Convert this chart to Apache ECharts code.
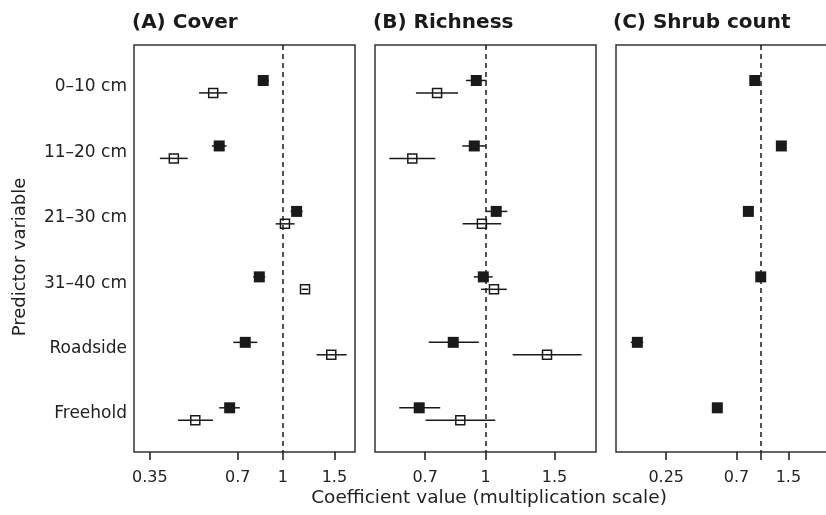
<!DOCTYPE html>
<html>
<head>
<meta charset="utf-8">
<script src="https://cdn.jsdelivr.net/npm/echarts@6/dist/echarts.min.js"></script>
<style>html,body{margin:0;padding:0;background:#fff;overflow:hidden}#c{width:846px;height:515px}</style>
</head>
<body>
<div id="c"></div>
<script>
// ---- data ----
const categories = ['0\u201310 cm', '11\u201320 cm', '21\u201330 cm', '31\u201340 cm', 'Roadside', 'Freehold'];

const coverFilled   = [0.856, 0.605, 1.114, 0.830, 0.743, 0.657];
const coverFilledLo = [0.823, 0.571, 1.062, 0.791, 0.676, 0.605];
const coverFilledHi = [0.895, 0.641, 1.168, 0.870, 0.817, 0.712];
const coverOpen     = [0.577, 0.423, 1.016, 1.190, 1.464, 0.501];
const coverOpenLo   = [0.516, 0.379, 0.944, 1.160, 1.304, 0.437];
const coverOpenHi   = [0.645, 0.472, 1.097, 1.220, 1.653, 0.576];

const richFilled    = [0.946, 0.935, 1.064, 0.986, 0.826, 0.676];
const richFilledLo  = [0.890, 0.871, 1.000, 0.932, 0.715, 0.601];
const richFilledHi  = [1.006, 1.000, 1.136, 1.042, 0.960, 0.765];
const richOpen      = [0.751, 0.649, 0.978, 1.050, 1.435, 0.861];
const richOpenLo    = [0.663, 0.567, 0.873, 0.973, 1.172, 0.702];
const richOpenHi    = [0.850, 0.743, 1.096, 1.132, 1.760, 1.058];

const shrubFilled   = [0.916, 1.353, 0.834, 1.000, 0.1637, 0.529];
const shrubFilledLo = [0.900, 1.330, 0.820, 0.985, 0.1486, 0.520];
const shrubFilledHi = [0.930, 1.375, 0.848, 1.015, 0.1787, 0.538];

const coverTicks = [0.35, 0.7, 1, 1.5];
const coverTickLabels = [0.35, 0.7, 1, 1.5];
const richTicks = [0.7, 1, 1.5];
const richTickLabels = [0.7, 1, 1.5];
const shrubTicks = [0.25, 0.7, 1, 1.5];
const shrubTickLabels = [0.25, 0.7, 1.5];

const panelTitles = ['(A) Cover', '(B) Richness', '(C) Shrub count'];

// ---- chart ----
const FONT = 'DejaVu Sans';
const INK = '#1a1a1a';
const FRAME = '#333';
const OFF = 0.095;

const chart = echarts.init(document.getElementById('c'), null, {renderer: 'canvas'});

const grids = [
  {left: 134, top: 45, width: 221, height: 407},
  {left: 375, top: 45, width: 221, height: 407},
  {left: 616, top: 45, width: 221, height: 407}
].map(g => Object.assign(g, {show: true, borderColor: FRAME, borderWidth: 1.5, backgroundColor: 'transparent',
  containLabel: false, outerBoundsMode: 'none'}));

const xRanges = [[0.309, 1.765], [0.521, 1.915], [0.1197, 3.06]];
const ticksArr = [coverTicks, richTicks, shrubTicks];
const labelsArr = [coverTickLabels, richTickLabels, shrubTickLabels];

const xAxes = xRanges.map((r, i) => ({
  type: 'log', logBase: 10, gridIndex: i, min: r[0], max: r[1], position: 'bottom',
  axisLine: {show: false},
  splitLine: {show: false},
  axisTick: {show: true, inside: false, length: 8, customValues: ticksArr[i], lineStyle: {color: INK, width: 1.5}},
  axisLabel: {show: true, customValues: labelsArr[i], margin: 18, color: '#222', fontFamily: FONT, fontSize: 16,
    formatter: v => String(+(+v).toPrecision(3))}
}));

const yAxes = [0, 1, 2].map(i => ({
  type: 'value', gridIndex: i, inverse: true, min: 0.363, max: 6.58, position: 'left',
  axisLine: {show: false},
  splitLine: {show: false}, axisTick: {show: false},
  axisLabel: i === 0 ? {show: true, customValues: [1, 2, 3, 4, 5, 6], margin: 7, color: '#222', fontFamily: FONT, fontSize: 17,
    formatter: v => categories[Math.round(v) - 1] || ''} : {show: false}
}));

function errData(lo, hi, off) {
  return lo.map((l, k) => [l, hi[k], k + 1 + off]);
}
function ptData(vals, off) {
  return vals.map((v, k) => [v, k + 1 + off]);
}
function errSeries(i, data) {
  return {
    type: 'custom', xAxisIndex: i, yAxisIndex: i, z: 2, silent: true,
    renderItem: (params, api) => {
      const a = api.coord([api.value(0), api.value(2)]);
      const b = api.coord([api.value(1), api.value(2)]);
      return {type: 'line', shape: {x1: a[0], y1: a[1], x2: b[0], y2: b[1]}, style: {stroke: INK, lineWidth: 1.5}};
    },
    encode: {x: [0, 1], y: 2},
    data: data
  };
}
function filledSeries(i, data, withLine) {
  const s = {
    type: 'scatter', xAxisIndex: i, yAxisIndex: i, z: 4, silent: true,
    symbol: 'rect', symbolSize: 11,
    itemStyle: {color: INK, opacity: 1},
    data: data
  };
  if (withLine) {
    s.markLine = {
      silent: true, symbol: 'none', animation: false,
      label: {show: false},
      lineStyle: {color: INK, type: [5, 4], width: 1.5},
      data: [{xAxis: 1}]
    };
  }
  return s;
}
function openSeries(i, data) {
  return {
    type: 'scatter', xAxisIndex: i, yAxisIndex: i, z: 4, silent: true,
    symbol: 'rect', symbolSize: 9,
    itemStyle: {color: 'rgba(255,255,255,0)', borderColor: INK, borderWidth: 1.5, opacity: 1},
    data: data
  };
}

const series = [
  errSeries(0, errData(coverFilledLo, coverFilledHi, -OFF)),
  errSeries(0, errData(coverOpenLo, coverOpenHi, OFF)),
  filledSeries(0, ptData(coverFilled, -OFF), true),
  openSeries(0, ptData(coverOpen, OFF)),

  errSeries(1, errData(richFilledLo, richFilledHi, -OFF)),
  errSeries(1, errData(richOpenLo, richOpenHi, OFF)),
  filledSeries(1, ptData(richFilled, -OFF), true),
  openSeries(1, ptData(richOpen, OFF)),

  errSeries(2, errData(shrubFilledLo, shrubFilledHi, -OFF)),
  filledSeries(2, ptData(shrubFilled, -OFF), true)
];

const titleLefts = [132, 373, 613];

chart.setOption({
  animation: false,
  backgroundColor: '#fff',
  title: panelTitles.map((t, i) => ({
    text: t, left: titleLefts[i], top: 13, padding: 0,
    textStyle: {fontFamily: FONT, fontWeight: 'bold', fontSize: 20, color: '#1a1a1a'}
  })),
  grid: grids,
  xAxis: xAxes,
  yAxis: yAxes,
  series: series,
  graphic: [
    {type: 'text', x: 20, y: 257, rotation: Math.PI / 2, silent: true,
      style: {text: 'Predictor variable', align: 'center', verticalAlign: 'middle', fontFamily: FONT, fontSize: 18, fill: '#222'}},
    {type: 'text', x: 489, y: 498, silent: true,
      style: {text: 'Coefficient value (multiplication scale)', align: 'center', verticalAlign: 'middle', fontFamily: FONT, fontSize: 18.5, fill: '#222'}}
  ]
});
</script>
</body>
</html>
